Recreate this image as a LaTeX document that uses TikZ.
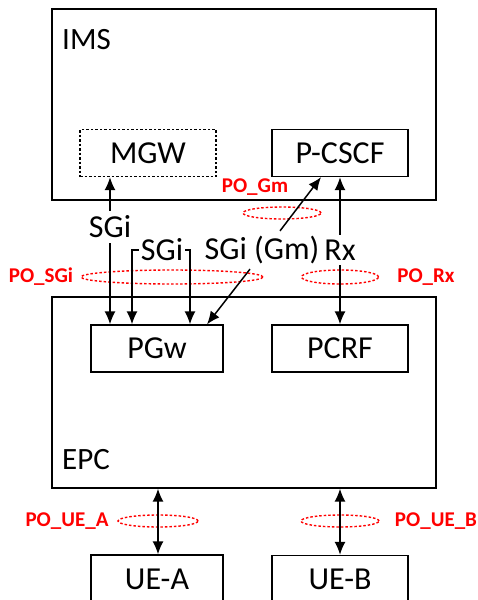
\documentclass[tikz,border=0pt]{standalone}
\usepackage{fontspec}
\setmainfont{Carlito}
\usetikzlibrary{arrows.meta,positioning,shapes.geometric}

\begin{document}
\begin{tikzpicture}[x=1pt,y=-1pt,
        netbox/.style={draw, line width=1.3pt, minimum width=384pt, minimum height=191pt, inner sep=0pt},
        entity/.style={draw, line width=1.3pt, minimum width=136pt, minimum height=47pt, inner sep=0pt,
            font=\fontsize{32}{36}\selectfont},
        iface/.style={inner xsep=2pt, inner ysep=5pt, font=\fontsize{32}{36}\selectfont},
        boxtitle/.style={anchor=west, inner sep=0pt, font=\fontsize{31}{36}\selectfont},
        pozone/.style={ellipse, draw=red, dash pattern=on 2.5pt off 2pt, line width=1.4pt, inner sep=0pt},
        polabel/.style={text=red, inner sep=0pt, font=\fontsize{21}{24}\selectfont\bfseries},
        link/.style={draw, line width=1.5pt, -{Latex[length=13pt,width=11pt]}},
        duplex/.style={draw, line width=1.5pt, {Latex[length=13pt,width=11pt]}-{Latex[length=13pt,width=11pt]}}
    ]
    \useasboundingbox (0,0) rectangle (478,600);

    % domains
    \node[netbox] (ims) at (244,104.5) {};
    \node[boxtitle] (ims-title) at (62,40) {IMS};
    \node[netbox] (epc) at (244,392.5) {};
    \node[boxtitle] (epc-title) at (62,460) {EPC};

    % entities
    \node[entity, dash pattern=on 2.5pt off 2pt] (mgw) at (148,153) {MGW};
    \node[entity] (pcscf) at (340,153) {P-CSCF};
    \node[entity, minimum width=132pt] (pgw) at (157,348.5) {PGw};
    \node[entity] (pcrf) at (340,348.5) {PCRF};
    \node[entity, minimum width=132pt, minimum height=48pt] (uea) at (157,579) {UE-A};
    \node[entity] (ueb) at (340,579) {UE-B};

    % interfaces
    \node[iface] (sgi-mgw) at (110,227) {SGi};
    \node[iface] (sgi-pgw) at (162,250) {SGi};
    \node[iface] (sgi-gm) at (262,250) {SGi (Gm)};
    \node[iface] (rx) at (340,250) {Rx};

    % observation points
    \node[pozone, minimum width=78pt, minimum height=12pt] (zone-gm) at (282,213) {};
    \node[polabel] (po-gm) at (255,187) {PO\_Gm};
    \node[pozone, minimum width=182pt, minimum height=14pt] (zone-sgi) at (172,277) {};
    \node[polabel] (po-sgi) at (41,277) {PO\_SGi};
    \node[pozone, minimum width=77pt, minimum height=14pt] (zone-rx) at (340,277) {};
    \node[polabel] (po-rx) at (426,277) {PO\_Rx};
    \node[pozone, minimum width=80pt, minimum height=12pt] (zone-uea) at (158,521) {};
    \node[polabel] (po-uea) at (67,521) {PO\_UE\_A};
    \node[pozone, minimum width=78pt, minimum height=12pt] (zone-ueb) at (340,521) {};
    \node[polabel] (po-ueb) at (436,521) {PO\_UE\_B};

    % connectors
    \draw[link] (sgi-mgw.north) -- (sgi-mgw.north |- mgw.south);
    \draw[link] (sgi-mgw.south) -- (sgi-mgw.south |- pgw.north);
    \draw[link] (sgi-pgw.west) -| ([xshift=-25pt]pgw.north);
    \draw[link] (sgi-pgw.east) -| ([xshift=33pt]pgw.north);
    \draw[link] ([xshift=-12pt]sgi-gm.south) -- ([xshift=50pt]pgw.north);
    \draw[link] ([xshift=18pt]sgi-gm.north) -- ([xshift=-19pt]pcscf.south);
    \draw[link] (rx.north) -- (pcscf.south -| rx.north);
    \draw[link] (rx.south) -- (pcrf.north -| rx.south);
    \draw[duplex] (epc.south -| zone-uea) -- (uea.north -| zone-uea);
    \draw[duplex] (epc.south -| ueb) -- (ueb.north);
\end{tikzpicture}
\end{document}
